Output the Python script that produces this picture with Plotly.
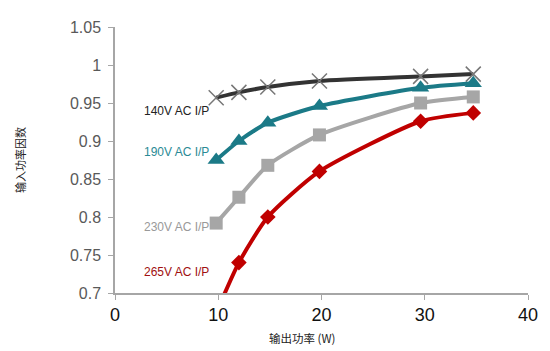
import plotly.graph_objects as go

power = [9.8, 12, 14.8, 19.8, 29.6, 34.7]
pf_140 = [0.957, 0.964, 0.971, 0.979, 0.985, 0.988]
pf_190 = [0.875, 0.900, 0.924, 0.946, 0.970, 0.976]
pf_230 = [0.792, 0.826, 0.868, 0.908, 0.950, 0.958]
power_265 = [10.0, 12, 14.8, 19.8, 29.6, 34.7]
pf_265 = [0.680, 0.740, 0.800, 0.860, 0.926, 0.937]

series = [
    ("140V AC I/P", power, pf_140, "#333333", dict(symbol="x-thin", size=15, line=dict(width=1.5, color="#777777")), 0.940, "#222222"),
    ("190V AC I/P", power, pf_190, "#1b7a87", dict(symbol="triangle-up", size=15), 0.886, "#2a8a95"),
    ("230V AC I/P", power, pf_230, "#a6a6a6", dict(symbol="square", size=13), 0.787, "#999999"),
    ("265V AC I/P", power_265, pf_265, "#c00000", dict(symbol="diamond", size=12), 0.728, "#a01010"),
]

fig = go.Figure()
for name, xs, ys, col, mk, ly, tcol in series:
    m = dict(color=col, **mk) if "line" not in mk else dict(color="#777777", **mk)
    fig.add_trace(go.Scatter(x=xs, y=ys, mode="lines+markers", name=name,
                             line=dict(color=col, width=4, shape="spline", smoothing=0.6),
                             marker=m, showlegend=False))
    fig.add_annotation(x=6.0, y=ly, xref="x", yref="y", text=name, showarrow=False,
                       font=dict(family="Arial, Liberation Sans", size=12, color=tcol))

fig.add_annotation(xref="x", x=(306 - 115) / 10.525, yref="paper", y=-0.17,
                   yanchor="middle", text="输出功率 (W)", showarrow=False,
                   font=dict(family="Noto Sans CJK SC", size=11.5, color="#222222"))

fig.update_layout(
    width=550, height=351,
    margin=dict(l=115, r=14, t=27, b=58),
    paper_bgcolor="white", plot_bgcolor="white",
    xaxis=dict(range=[0, 40], dtick=10, showgrid=False, zeroline=False,
               showline=True, linecolor="#a6a6a6", linewidth=1.5,
               ticks="outside", ticklen=5, tickcolor="#a6a6a6",
               tickfont=dict(family="Arial, Liberation Sans", size=18, color="#111111")),
    yaxis=dict(range=[0.7, 1.05], dtick=0.05, showgrid=False, zeroline=False,
               showline=True, linecolor="#a6a6a6", linewidth=1.5,
               ticks="outside", ticklen=5, tickcolor="#a6a6a6", ticklabelstandoff=4,
               tickfont=dict(family="Arial, Liberation Sans", size=16, color="#595959"),
               title=dict(text="输入功率因数", font=dict(family="Noto Sans CJK SC", size=11, color="#222222"), standoff=42)),
)

fig.write_html("out.html")
